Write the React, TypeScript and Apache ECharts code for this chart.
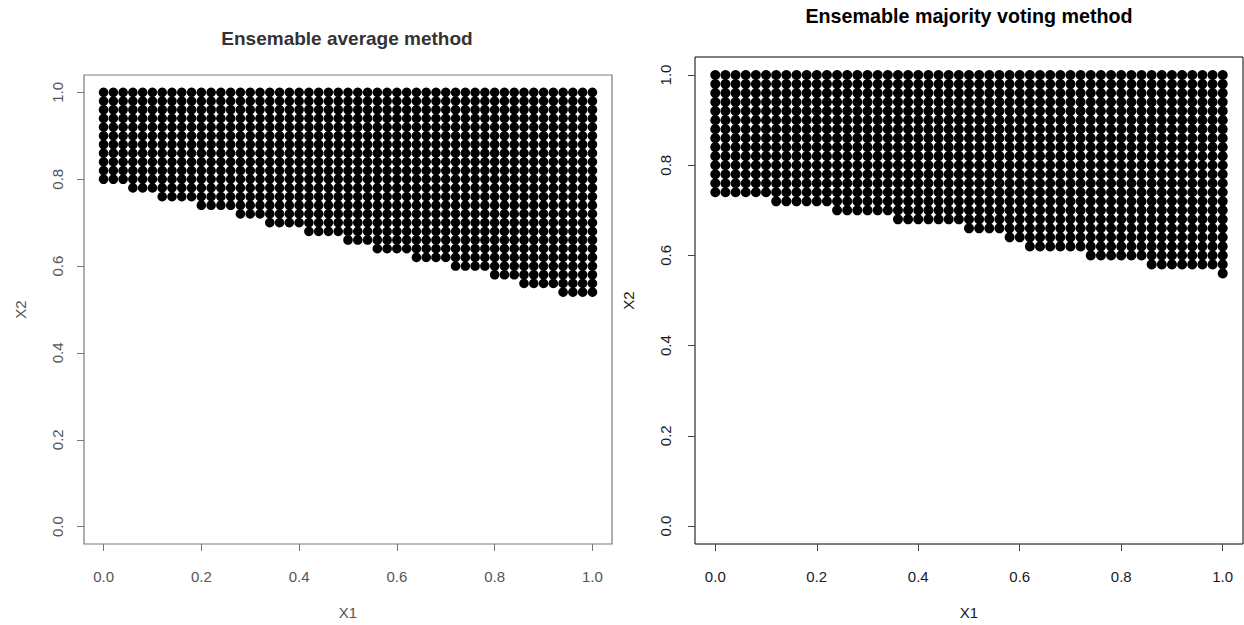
import React, { useEffect, useRef } from "react";
import * as echarts from "echarts";

// Grid coordinates of the evaluated points (X1 and X2 share the same grid)
const gridValues = [
  0.0, 0.02, 0.04, 0.06, 0.08, 0.1, 0.12, 0.14, 0.16, 0.18,
  0.2, 0.22, 0.24, 0.26, 0.28, 0.3, 0.32, 0.34, 0.36, 0.38,
  0.4, 0.42, 0.44, 0.46, 0.48, 0.5, 0.52, 0.54, 0.56, 0.58,
  0.6, 0.62, 0.64, 0.66, 0.68, 0.7, 0.72, 0.74, 0.76, 0.78,
  0.8, 0.82, 0.84, 0.86, 0.88, 0.9, 0.92, 0.94, 0.96, 0.98, 1.0,
];

// Lowest X2 classified positive in each X1 column — ensemble average method
const averageMinX2 = [
  0.8, 0.8, 0.8,
  0.78, 0.78, 0.78,
  0.76, 0.76, 0.76, 0.76,
  0.74, 0.74, 0.74, 0.74,
  0.72, 0.72, 0.72,
  0.7, 0.7, 0.7, 0.7,
  0.68, 0.68, 0.68, 0.68,
  0.66, 0.66, 0.66,
  0.64, 0.64, 0.64, 0.64,
  0.62, 0.62, 0.62, 0.62,
  0.6, 0.6, 0.6, 0.6,
  0.58, 0.58, 0.58,
  0.56, 0.56, 0.56, 0.56,
  0.54, 0.54, 0.54, 0.54,
];

// Lowest X2 classified positive in each X1 column — ensemble majority voting
const votingMinX2 = [
  0.74, 0.74, 0.74, 0.74, 0.74, 0.74,
  0.72, 0.72, 0.72, 0.72, 0.72, 0.72,
  0.7, 0.7, 0.7, 0.7, 0.7, 0.7,
  0.68, 0.68, 0.68, 0.68, 0.68, 0.68, 0.68,
  0.66, 0.66, 0.66, 0.66,
  0.64, 0.64,
  0.62, 0.62, 0.62, 0.62, 0.62, 0.62,
  0.6, 0.6, 0.6, 0.6, 0.6, 0.6,
  0.58, 0.58, 0.58, 0.58, 0.58, 0.58, 0.58,
  0.56,
];

const tickValues = [0, 0.2, 0.4, 0.6, 0.8, 1.0];
const tickLabels = ["0.0", "0.2", "0.4", "0.6", "0.8", "1.0"];

const titles = ["Ensemable average method", "Ensemable majority voting method"];
const xName = "X1";
const yName = "X2";

function buildPoints(minX2: number[]): number[][] {
  const pts: number[][] = [];
  gridValues.forEach((x, i) => {
    gridValues.forEach((y) => {
      if (y >= minX2[i] - 1e-9) pts.push([x, y]);
    });
  });
  return pts;
}

const FONT = "'Liberation Sans', Arial, Helvetica, sans-serif";

function makeAxes(idx: number, textColor: string, tickColor: string, yMargin: number, yNameGap: number) {
  const fmt = (v: number) => {
    const k = tickValues.findIndex((t) => Math.abs(t - v) < 1e-9);
    return k >= 0 ? tickLabels[k] : "";
  };
  const common = {
    type: "value",
    gridIndex: idx,
    min: -0.04,
    max: 1.04,
    splitLine: { show: false },
    axisLine: { show: false, onZero: false },
    axisTick: { show: true, inside: false, length: 7, customValues: tickValues, lineStyle: { color: tickColor, width: 1 } },
  };
  const xAxis = {
    ...common,
    position: "bottom",
    axisLabel: { show: true, customValues: tickValues, formatter: fmt, margin: 25, color: textColor, fontSize: 15, fontFamily: FONT },
    name: xName,
    nameLocation: "middle",
    nameGap: 61,
    nameTextStyle: { color: textColor, fontSize: 15, fontFamily: FONT },
  };
  const yAxis = {
    ...common,
    position: "left",
    axisLabel: { show: true, customValues: tickValues, formatter: fmt, rotate: 90, margin: yMargin, color: textColor, fontSize: 15, fontFamily: FONT },
    name: yName,
    nameLocation: "middle",
    nameGap: yNameGap,
    nameRotate: 90,
    nameTextStyle: { color: textColor, fontSize: 15, fontFamily: FONT },
  };
  return { xAxis, yAxis };
}

export default function App() {
  const ref = useRef<HTMLDivElement>(null);
  useEffect(() => {
    if (!ref.current) return;
    const chart = echarts.init(ref.current, undefined, { renderer: "svg" });
    const a0 = makeAxes(0, "#555", "#777", 19, 56);
    const a1 = makeAxes(1, "#1a1a1a", "#444", 22, 59);
    chart.setOption({
      animation: false,
      backgroundColor: "#fff",
      title: [
        {
          text: titles[0],
          left: 347,
          top: 29,
          textAlign: "center",
          padding: 0,
          textStyle: { color: "#333", fontSize: 19, fontWeight: "bold", fontFamily: FONT },
        },
        {
          text: titles[1],
          left: 969,
          top: 6,
          textAlign: "center",
          padding: 0,
          textStyle: { color: "#000", fontSize: 19.7, fontWeight: "bold", fontFamily: FONT },
        },
      ],
      grid: [
        { left: 84, top: 75, width: 528, height: 472, show: true, borderColor: "#7a7a7a", borderWidth: 1.2, backgroundColor: "transparent" },
        { left: 695, top: 57, width: 548, height: 488, show: true, borderColor: "#000", borderWidth: 1, backgroundColor: "transparent" },
      ],
      xAxis: [a0.xAxis, a1.xAxis],
      yAxis: [a0.yAxis, a1.yAxis],
      series: [
        {
          type: "scatter",
          xAxisIndex: 0,
          yAxisIndex: 0,
          data: buildPoints(averageMinX2),
          symbol: "circle",
          symbolSize: 9.6,
          itemStyle: { color: "#000", opacity: 1 },
          silent: true,
        },
        {
          type: "scatter",
          xAxisIndex: 1,
          yAxisIndex: 1,
          data: buildPoints(votingMinX2),
          symbol: "circle",
          symbolSize: 10,
          itemStyle: { color: "#000", opacity: 1 },
          silent: true,
        },
      ],
    });
    return () => chart.dispose();
  }, []);
  return <div ref={ref} style={{ position: "fixed", left: 0, top: 0, width: 1244, height: 625 }} />;
}
